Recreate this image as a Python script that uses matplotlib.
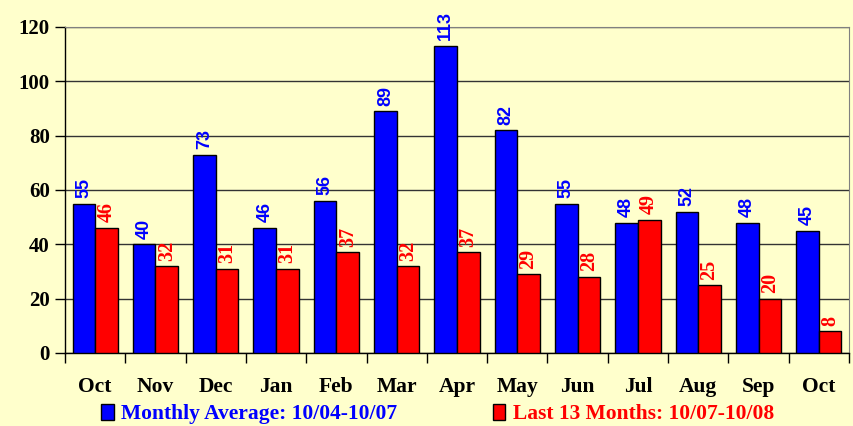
import matplotlib
matplotlib.use("Agg")
import matplotlib.pyplot as plt
import numpy as np
from matplotlib.patches import Patch

months = ["Oct", "Nov", "Dec", "Jan", "Feb", "Mar", "Apr", "May", "Jun", "Jul", "Aug", "Sep", "Oct"]
monthly_avg = [55, 40, 73, 46, 56, 89, 113, 82, 55, 48, 52, 48, 45]
last13 = [46, 32, 31, 31, 37, 32, 37, 29, 28, 49, 25, 20, 8]
legend_labels = ["Monthly Average: 10/04-10/07", "Last 13 Months: 10/07-10/08"]

bg = "#FFFFCC"
fig = plt.figure(figsize=(8.54, 4.26), dpi=100, facecolor=bg)
ax = fig.add_axes([65/854, 1-353/426, (849-65)/854, (353-27)/426])
ax.set_facecolor(bg)

x = np.arange(len(months))
w = 0.375
ax.bar(x - w/2, monthly_avg, w, color="#0000FF", edgecolor="black", linewidth=1.0, zorder=3)
ax.bar(x + w/2, last13, w, color="#FF0000", edgecolor="black", linewidth=1.0, zorder=3)

for xi, v in zip(x, monthly_avg):
    ax.annotate(str(v), (xi - w/2, v), xytext=(0, 4), textcoords="offset points",
                rotation=90, ha="center", va="bottom", color="#0000FF",
                fontsize=13, fontweight="bold", family="Liberation Sans", clip_on=False)
for xi, v in zip(x, last13):
    ax.annotate(str(v), (xi + w/2, v), xytext=(0, 4), textcoords="offset points",
                rotation=90, ha="center", va="bottom", color="#FF0000",
                fontsize=14.5, fontweight="bold", family="Liberation Serif", clip_on=False)

ax.set_xlim(-0.5, len(months) - 0.5)
ax.set_ylim(0, 120)
ax.set_yticks(range(0, 121, 20))
ax.yaxis.grid(True, color="#333333", linewidth=1.0, zorder=0)
ax.set_axisbelow(True)

ax.set_xticks(np.arange(-0.5, len(months)), minor=False)
ax.set_xticklabels([])
ax.set_xticks(x, minor=True)
ax.set_xticklabels(months, minor=True, fontsize=15.5, fontweight="bold", family="Liberation Serif")
ax.tick_params(axis="x", which="minor", length=0, pad=17)
ax.tick_params(axis="x", which="major", length=7, width=1, color="black")
ax.tick_params(axis="y", length=7, width=1, color="black", pad=4)
for lbl in ax.get_yticklabels():
    lbl.set_fontsize(15)
    lbl.set_fontweight("bold")
    lbl.set_family("Liberation Serif")

for s in ["left", "bottom"]:
    ax.spines[s].set_color("black")
    ax.spines[s].set_linewidth(1.0)
ax.spines["right"].set_color("#808080")
ax.spines["top"].set_color("#808080")

handles = [Patch(facecolor="#0000FF", edgecolor="black"), Patch(facecolor="#FF0000", edgecolor="black")]
leg = fig.legend(handles, legend_labels, loc="center", bbox_to_anchor=(0.5123, 1-414/426), ncol=2,
                 frameon=False, handlelength=0.6, handleheight=0.75, handletextpad=0.35, columnspacing=4.42,
                 prop={"family": "Liberation Serif", "weight": "bold", "size": 15.5})
for t, c in zip(leg.get_texts(), ["#0000FF", "#FF0000"]):
    t.set_color(c)

fig.savefig("out.png", dpi=100, facecolor=bg)
